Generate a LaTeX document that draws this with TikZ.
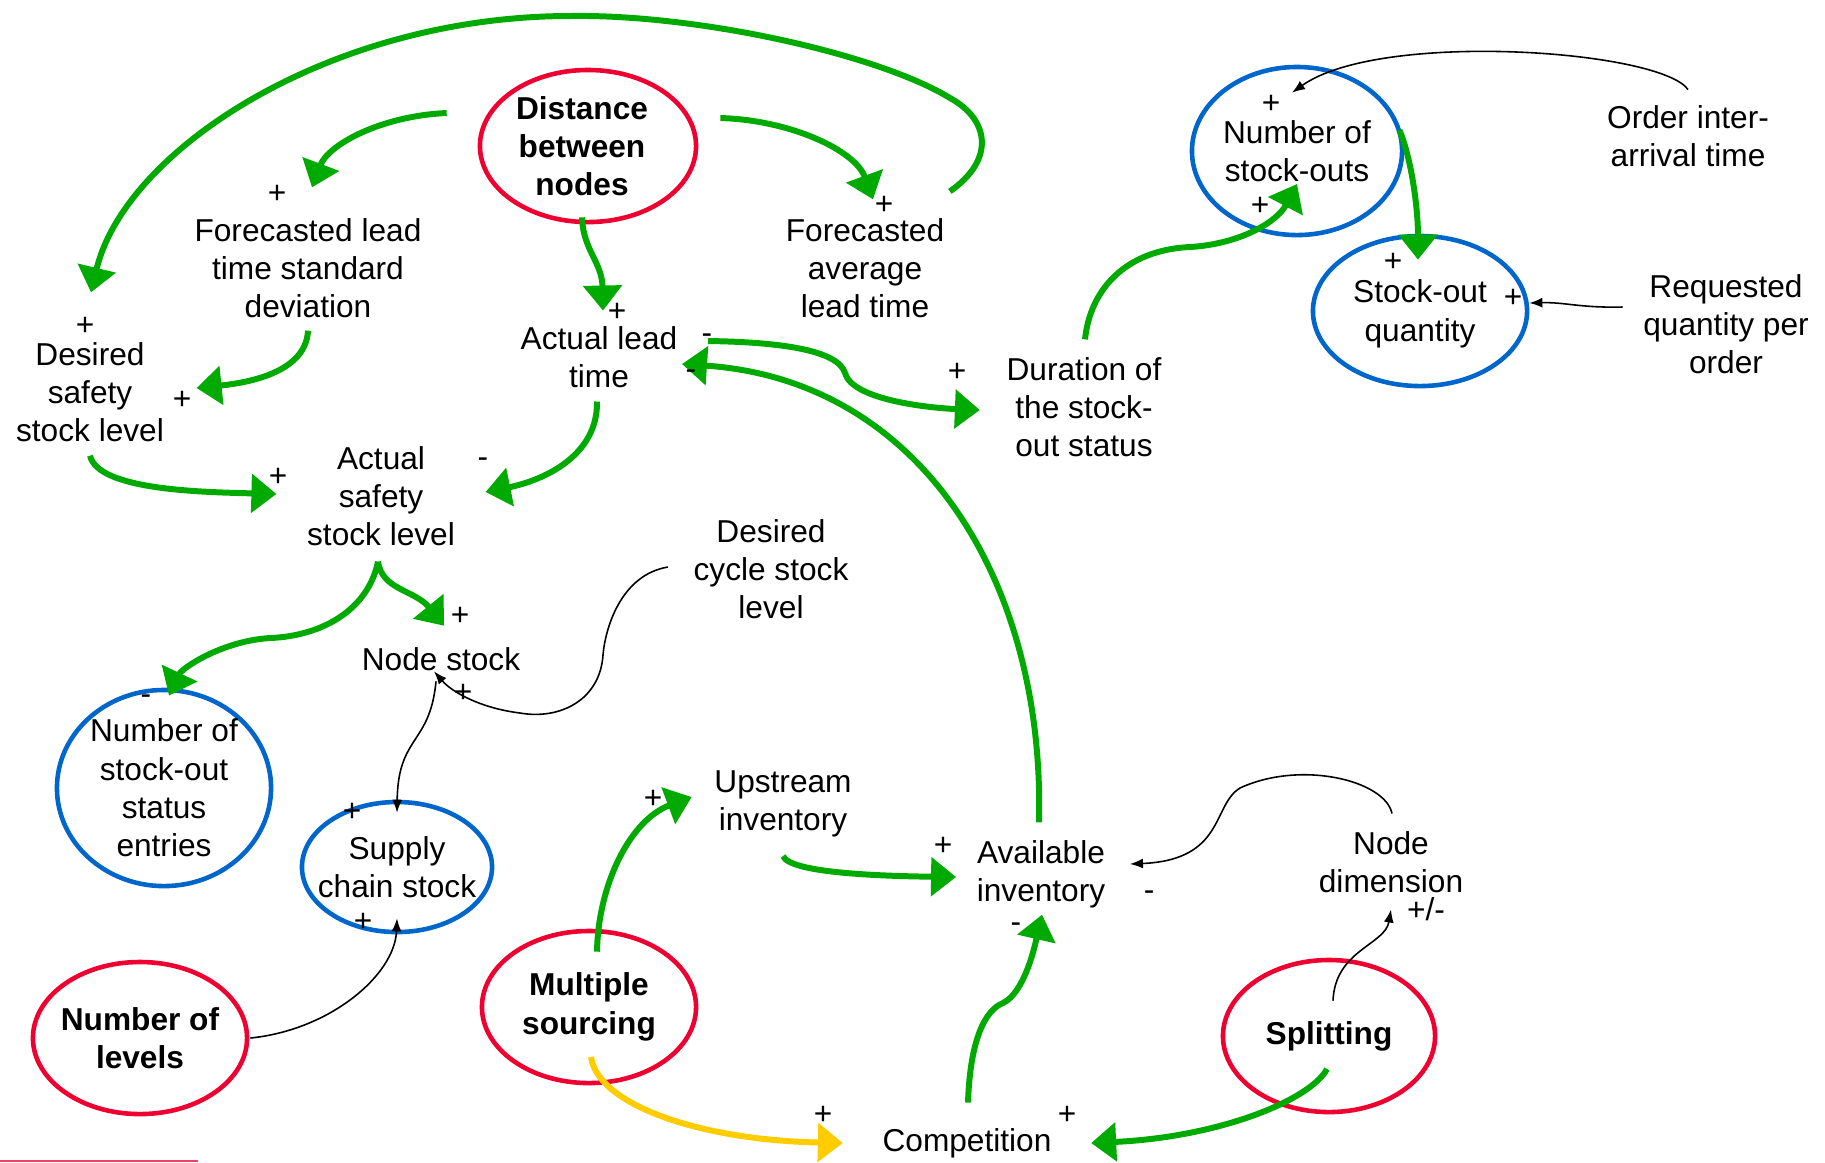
\documentclass[tikz,border=0pt]{standalone}
\usepackage{fontspec}
\setmainfont{Liberation Sans}
\usetikzlibrary{arrows.meta,shapes.geometric}
\definecolor{loopgreen}{HTML}{00AA00}
\definecolor{driverred}{HTML}{EE0030}
\definecolor{kpiblue}{HTML}{0066CC}
\definecolor{linkyellow}{HTML}{FFCC00}

\begin{document}
\begin{tikzpicture}[x=0.01cm, y=-0.01cm,
        every node/.style={font=\fontsize{9}{10.9}\selectfont, align=center, inner sep=0pt},
        driver/.style={ellipse, draw=driverred, line width=1.3pt, inner sep=-0.15cm, minimum width=2.14cm,
                       minimum height=1.52cm, font=\fontsize{9}{10.9}\selectfont\bfseries},
        kpi/.style={ellipse, draw=kpiblue, line width=1.3pt, inner sep=-0.15cm},
        posarrow/.style={draw=loopgreen, line width=1.7pt, -{Triangle[length=0.25cm,width=0.38cm]}},
        yelarrow/.style={draw=linkyellow, line width=1.7pt, -{Triangle[length=0.25cm,width=0.38cm]}},
        thinarrow/.style={draw=black, line width=0.45pt, -{Latex[length=0.13cm,width=0.1cm]}}]
    \useasboundingbox (0,0) rectangle (1825,1162);

    % Define nodes, drivers in red and indicators in blue
    \node[driver, minimum width=2.16cm] (dist) at (588,146) {\hspace*{-0.12cm}Distance\\\hspace*{-0.12cm}between\\\hspace*{-0.12cm}nodes};
    \node (fcsd) at (308,268) {Forecasted lead\\time standard\\deviation};
    \node (fcavg) at (865,268) {Forecasted\\average\\lead time};
    \node (desss) at (90,392) {Desired\\safety\\stock level};
    \node (actlt) at (599,357) {Actual lead\\time};
    \node (actss) at (381,496) {Actual\\safety\\stock level};
    \node (dur) at (1084,407) {Duration of\\the stock-\\out status};
    \node[kpi, minimum width=2.10cm, minimum height=1.68cm] (nso) at (1297,151) {Number of\\stock-outs};
    \node (oia) at (1688,136) {Order inter-\\arrival time};
    \node[kpi, minimum width=2.14cm, minimum height=1.50cm] (soq) at (1420,311) {\\[-0.1cm]Stock-out\\quantity};
    \node (rqo) at (1726,324) {Requested\\quantity per\\order};
    \node (dcs) at (771,569) {Desired\\cycle stock\\level};
    \node (nstock) at (441,659) {Node stock};
    \node[kpi, minimum width=2.14cm, minimum height=1.96cm] (nsose) at (164,788) {Number of\\stock-out\\status\\entries};
    \node[kpi, minimum width=1.90cm, minimum height=1.30cm] (scs) at (397,867) {Supply\\chain stock};
    \node[driver] (nlev) at (140,1038) {Number of\\levels};
    \node (upinv) at (783,804) {Upstream\\inventory};
    \node[driver] (msrc) at (589,1007) {Multiple\\sourcing};
    \node (avinv) at (1041,874) {Available\\inventory};
    \node (ndim) at (1391,862) {Node\\dimension};
    \node[driver, minimum width=2.12cm] (split) at (1329,1036) {Splitting};
    \node (comp) at (967,1143) {Competition};

    % Green links
    \draw[posarrow] ([shift={(-31,-33)}]dist.west) .. controls (380,116) and (328,145) .. ([shift={(4,-30)}]fcsd.north);
    \draw[posarrow] ([shift={(22,-28)}]dist.east) .. controls (790,120) and (855,150) .. ([shift={(8,-18)}]fcavg.north);
    \draw[posarrow] ([shift={(-6,-7)}]dist.south) .. controls (583,250) and (602,262) .. ([shift={(4,-15)}]actlt.north);
    \draw[posarrow] ([shift={(5,-26)}]fcavg.north east) .. controls (995,160) and (990,120) .. (950,98)
        .. controls (880,55) and (700,14) .. (570,16)
        .. controls (330,16) and (125,150) .. ([shift={(1,-49)}]desss.north);
    \draw[posarrow] ([shift={(0,12)}]fcsd.south) .. controls (306,370) and (255,382) .. ([shift={(32,-4)}]desss.east);
    \draw[posarrow] ([shift={(0,13)}]desss.south) .. controls (98,490) and (200,492) .. ([shift={(-30,-2)}]actss.west);
    \draw[posarrow] ([shift={(-2,13)}]actlt.south) .. controls (598,455) and (545,480) .. ([shift={(30,-4)}]actss.east);
    \draw[posarrow] ([shift={(30,-16)}]actlt.east) .. controls (780,342) and (838,350) .. (845,373)
        .. controls (852,400) and (930,408) .. ([shift={(-26,3)}]dur.west);
    \draw[posarrow] ([shift={(-2,-17)}]avinv.north) .. controls (1045,580) and (920,380) .. ([shift={(4,7)}]actlt.east);
    \draw[posarrow] ([shift={(1,-17)}]dur.north) .. controls (1090,290) and (1125,250) .. (1190,247)
        .. controls (1240,244) and (1277,222) .. ([shift={(0,33)}]nso.center);
    \draw[posarrow] ([shift={(-5,-21)}]nso.east) .. controls (1412,160) and (1418,210) .. ([shift={(-2,26)}]soq.north);
    \draw[posarrow] ([shift={(-3,15)}]actss.south) .. controls (368,610) and (322,636) .. (270,638)
        .. controls (222,641) and (182,668) .. ([shift={(5,8)}]nsose.north);
    \draw[posarrow] ([shift={(-3,15)}]actss.south) .. controls (382,590) and (415,590) .. ([shift={(3,-21)}]nstock.north);
    \draw[posarrow] ([shift={(8,23)}]msrc.north) .. controls (598,885) and (630,820) .. ([shift={(-22,-7)}]upinv.west);
    \draw[posarrow] ([shift={(0,18)}]upinv.south) .. controls (790,873) and (880,876) .. ([shift={(-20,3)}]avinv.west);
    \draw[posarrow] ([shift={(1,-25)}]comp.north) .. controls (970,1040) and (985,1010) .. (1003,1003)
        .. controls (1025,992) and (1035,945) .. ([shift={(1,6)}]avinv.south);
    \draw[posarrow] ([shift={(-2,33)}]split.center) .. controls (1310,1100) and (1220,1137) .. ([shift={(39,0)}]comp.east);
    \draw[yelarrow] ([shift={(2,50)}]msrc.center) .. controls (598,1105) and (700,1140) .. ([shift={(-39,0)}]comp.west);

    % Black links
    \draw[thinarrow] ([shift={(0,-15)}]oia.north) .. controls (1660,50) and (1380,30) .. ([shift={(-5,28)}]nso.north);
    \draw[thinarrow] ([shift={(-20,-17)}]rqo.west) .. controls (1580,308) and (1565,302) .. ([shift={(0,-8)}]soq.east);
    \draw[thinarrow] ([shift={(-25,-2)}]dcs.west) .. controls (620,575) and (605,630) .. (603,655)
        .. controls (600,700) and (560,720) .. (520,713)
        .. controls (480,708) and (452,692) .. ([shift={(-7,0)}]nstock.south);
    \draw[thinarrow] ([shift={(-5,10)}]nstock.south) .. controls (430,745) and (398,735) .. ([shift={(0,13)}]scs.north);
    \draw[thinarrow] ([shift={(1,0)}]nlev.east) .. controls (330,1030) and (395,975) .. ([shift={(0,-16)}]scs.south);
    \draw[thinarrow] ([shift={(1,-17)}]ndim.north) .. controls (1385,780) and (1300,760) .. (1240,788)
        .. controls (1212,805) and (1225,860) .. ([shift={(24,-10)}]avinv.east);
    \draw[thinarrow] ([shift={(4,43)}]split.north) .. controls (1335,950) and (1385,945) .. ([shift={(0,16)}]ndim.south);

    % Polarity signs
    \node (s1) at (277,194) {+};
    \node (s2) at (884,205) {+};
    \node (s3) at (85,326) {+};
    \node (s4) at (182,400) {+};
    \node (s5) at (617,312) {+};
    \node (s6) at (707,339) {-};
    \node (s7) at (691,375) {-};
    \node (s8) at (957,372) {+};
    \node (s9) at (278,477) {+};
    \node (s10) at (483,463) {-};
    \node (s11) at (460,616) {+};
    \node (s12) at (463,693) {+};
    \node (s13) at (146,700) {-};
    \node (s14) at (352,812) {+};
    \node (s15) at (363,922) {+};
    \node (s16) at (653,799) {+};
    \node (s17) at (943,846) {+};
    \node (s18) at (1149,896) {-};
    \node (s19) at (1016,928) {-};
    \node (s20) at (1426,909) {+/-};
    \node (s21) at (823,1115) {+};
    \node (s22) at (1067,1115) {+};
    \node (s23) at (1271,104) {+};
    \node (s24) at (1260,206) {+};
    \node (s25) at (1393,262) {+};
    \node (s26) at (1513,298) {+};

    % Cut-off edge at the bottom
    \draw[driverred!75, line width=0.5pt] (0,1161) -- (198,1161);
\end{tikzpicture}
\end{document}
